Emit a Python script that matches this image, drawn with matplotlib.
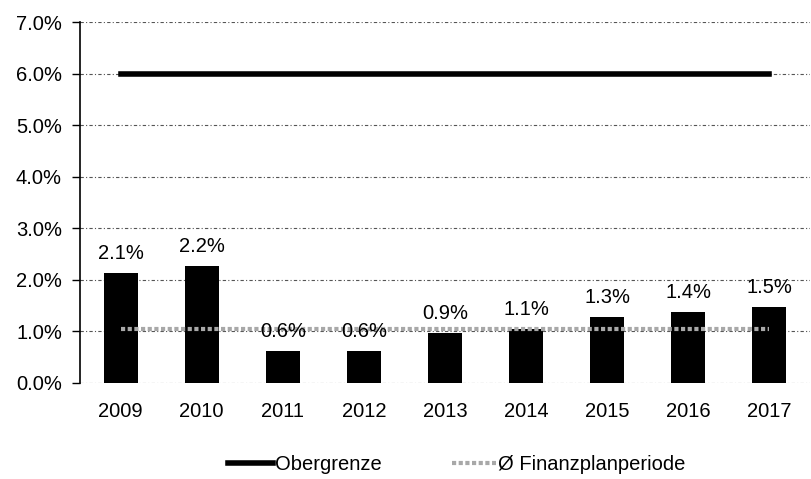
import matplotlib.pyplot as plt
import numpy as np

years = ['2009', '2010', '2011', '2012', '2013', '2014', '2015', '2016', '2017']
share = [2.13, 2.27, 0.63, 0.63, 0.97, 1.05, 1.28, 1.38, 1.47]
share_labels = ['2.1%', '2.2%', '0.6%', '0.6%', '0.9%', '1.1%', '1.3%', '1.4%', '1.5%']
upper_limit = [6.0] * 9
period_avg = [1.05] * 9

plt.rcParams['font.family'] = ['Liberation Sans', 'DejaVu Sans']
fs = 14.5

fig = plt.figure(figsize=(8.11, 4.79), dpi=100)
ax = fig.add_axes([80 / 811, 96 / 479, 730 / 811, 361 / 479])

x = np.arange(len(years))
ax.bar(x, share, width=0.42, color='black', zorder=2)
ax.plot(x, upper_limit, color='black', lw=4, zorder=3, label='Obergrenze')
ax.plot(x, period_avg, color='#a8a8a8', lw=3, ls=(0, (1, 0.6)), zorder=3,
        label='Ø Finanzplanperiode')

for xi, v, lab in zip(x, share, share_labels):
    ax.annotate(lab, xy=(xi, v), xytext=(0, 7), textcoords='offset points',
                ha='center', va='bottom', fontsize=fs, zorder=4)

ax.set_ylim(0, 7)
ax.set_xlim(-0.5, len(years) - 0.5)
ax.set_yticks(np.arange(0, 7.1, 1))
ax.set_yticklabels(['%.1f%%' % v for v in np.arange(0, 7.1, 1)], fontsize=fs)
ax.set_xticks(x)
ax.set_xticklabels(years, fontsize=fs)
ax.tick_params(axis='x', length=0, pad=14)
ax.tick_params(axis='y', length=6, width=1, direction='out', pad=7)

ax.yaxis.grid(True, color='#555555', lw=0.8, ls=(0, (3, 2, 1, 2)), zorder=0)
for s in ['top', 'right', 'bottom']:
    ax.spines[s].set_visible(False)
ax.spines['left'].set_linewidth(1.2)

fig.legend(*ax.get_legend_handles_labels(), loc='center', bbox_to_anchor=(457 / 811, 14 / 479),
           ncol=2, frameon=False, fontsize=fs, handlelength=2.2, handletextpad=0.1,
           columnspacing=3.5)

fig.savefig('out.png', dpi=100)
